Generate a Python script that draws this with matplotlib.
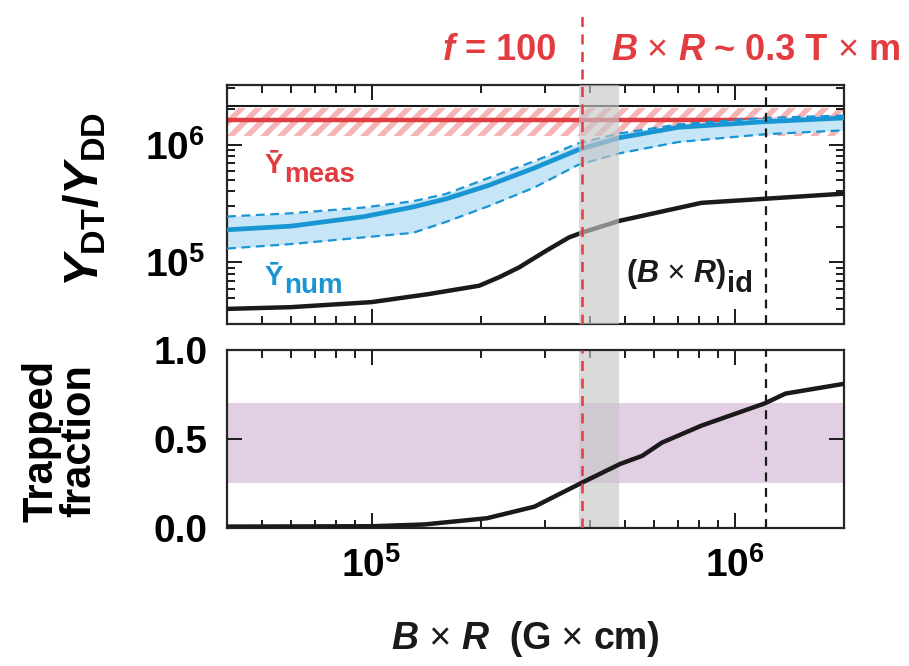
"""Trapped fraction and yield ratio vs B x R."""
import numpy as np
import matplotlib
matplotlib.use("Agg")
import matplotlib.pyplot as plt
from matplotlib.ticker import NullFormatter

RED = "#e23b40"
HATCH = "#f5b5b7"
BLUE = "#1a95d3"
BLUE_FILL = "#c6e5f6"
PURPLE = "#e3cfe4"

plt.rcParams.update({
    "font.family": ["Liberation Sans", "DejaVu Sans"],
    "font.weight": "bold",
    "mathtext.fontset": "custom",
    "mathtext.rm": "Liberation Sans:bold",
    "mathtext.it": "Liberation Sans:bold:italic",
    "mathtext.bf": "Liberation Sans:bold",
    "hatch.linewidth": 4.0,
    "hatch.color": HATCH,
    "axes.linewidth": 1.6,
})

# ---- data ----
# numerical yield ratio band (Y_num) on a common B*R grid
br_num = [4.0e4, 6.0e4, 9.5e4, 1.3e5, 1.6e5, 2.1e5, 2.8e5, 3.7e5, 4.8e5, 7.0e5, 1.2e6, 2.0e6]
y_num = [1.89e5, 2.03e5, 2.44e5, 2.95e5, 3.45e5, 4.5e5, 6.3e5, 9.0e5, 1.14e6, 1.40e6, 1.56e6, 1.68e6]
y_num_hi = [2.45e5, 2.61e5, 2.92e5, 3.3e5, 3.8e5, 5.2e5, 7.2e5, 1.02e6, 1.24e6, 1.48e6, 1.68e6, 1.76e6]
y_num_lo = [1.31e5, 1.43e5, 1.63e5, 1.78e5, 2.2e5, 3.0e5, 4.3e5, 6.7e5, 8.4e5, 1.05e6, 1.22e6, 1.32e6]

# black curve (no-trapping reference)
br_k = [4.0e4, 6.0e4, 1.0e5, 1.44e5, 1.98e5, 2.25e5, 2.55e5, 3.02e5, 3.5e5, 3.8e5,
        4.81e5, 6.3e5, 8.1e5, 1.22e6, 2.0e6]
y_k = [4.03e4, 4.17e4, 4.6e4, 5.39e4, 6.34e4, 7.5e4, 9.07e4, 1.25e5, 1.63e5, 1.79e5,
       2.25e5, 2.7e5, 3.2e5, 3.47e5, 3.83e5]

# measured yield ratio and its uncertainty
y_meas = 1.63e6
y_meas_lo, y_meas_hi = 1.18e6, 2.05e6
y_top_line = 2.13e6

# trapped fraction
br_trap = [4.0e4, 1.0e5, 1.4e5, 2.08e5, 2.81e5, 3.8e5, 4.84e5, 5.56e5, 6.31e5, 8.1e5, 1.21e6, 1.38e6, 2.0e6]
f_trap = [0.008, 0.01, 0.02, 0.055, 0.12, 0.255, 0.36, 0.405, 0.48, 0.575, 0.70, 0.755, 0.81]
trap_band = (0.25, 0.70)

# markers
br_f100 = 3.81e5
br_band = (3.72e5, 4.81e5)
br_id = 1.22e6

xlim = (4e4, 2e6)
ylim_top = (3e4, 3.2e6)
xticks = [1e5, 1e6]
xticklabels = [r"$\mathrm{10^{5}}$", r"$\mathrm{10^{6}}$"]
yticks_top = [1e5, 1e6]
yticklabels_top = [r"$\mathrm{10^{5}}$", r"$\mathrm{10^{6}}$"]
yticks_bot = [0.0, 0.5, 1.0]
yticklabels_bot = ["0.0", "0.5", "1.0"]

fig = plt.figure(figsize=(9.09, 6.66), dpi=100)
ax1 = fig.add_axes([0.2497, 0.5135, 0.6788, 0.3589])
ax2 = fig.add_axes([0.2497, 0.2072, 0.6788, 0.2673])


def chain(ax, x, y, parts, color, size, transform):
    """Write text pieces one after another on a shared baseline.
    parts: (text, style, weight)"""
    s, st, wt = parts[0]
    prev = ax.text(x, y, s, transform=transform, color=color, fontsize=size, style=st,
                   weight=wt, ha="left", va="bottom", zorder=6, clip_on=False)
    for s, st, wt in parts[1:]:
        prev = ax.annotate(s, xy=(1, 0), xycoords=prev, xytext=(0, 0),
                           textcoords="offset points", color=color, fontsize=size,
                           style=st, weight=wt, ha="left", va="bottom", zorder=6,
                           annotation_clip=False)
    return prev


def sub(ax, prev, s, color, size):
    ax.annotate(s, xy=(1, 0), xycoords=prev, xytext=(0.5, -6),
                textcoords="offset points", color=color, fontsize=size,
                ha="left", va="bottom", zorder=6)


B, N, X = "bold", "normal", " × "
TIMES = (X, N, N)

# ----- top panel -----
ax1.axhspan(y_meas_lo, y_meas_hi, facecolor="none", edgecolor=HATCH, hatch="//", lw=0, zorder=1)
ax1.axhline(y_top_line, color="0.1", lw=1.5, zorder=2)
ax1.axhline(y_meas, color=RED, lw=3.2, zorder=2)
ax1.fill_between(br_num, y_num_lo, y_num_hi, color=BLUE_FILL, lw=0, zorder=2)
ax1.plot(br_num, y_num_hi, color=BLUE, lw=1.6, dashes=(4, 2.5), zorder=3)
ax1.plot(br_num, y_num_lo, color=BLUE, lw=1.6, dashes=(4, 2.5), zorder=3)
ax1.plot(br_num, y_num, color=BLUE, lw=3.4, zorder=3)
ax1.plot(br_k, y_k, color="0.1", lw=3.2, zorder=3)
ax1.axvspan(*br_band, color="0.78", alpha=0.65, lw=0, zorder=4)
ax1.axvline(br_f100, ymin=0, ymax=1.30, color=RED, lw=1.8, dashes=(4, 3), zorder=5, clip_on=False)
ax1.axvline(br_id, color="0.1", lw=1.6, dashes=(4, 3), zorder=5)
ax1.set_xscale("log"); ax1.set_yscale("log")
ax1.set_xlim(*xlim); ax1.set_ylim(*ylim_top)
ax1.set_xticks(xticks); ax1.set_xticklabels([])
ax1.set_yticks(yticks_top); ax1.set_yticklabels(yticklabels_top)
ax1.tick_params(axis="y", pad=16)

ta = ax1.transAxes
t = chain(ax1, 0.0616, 0.605, [("Ȳ", N, B)], RED, 20, ta)
sub(ax1, t, "meas", RED, 20)
t = chain(ax1, 0.0616, 0.138, [("Ȳ", N, B)], BLUE, 20, ta)
sub(ax1, t, "num", BLUE, 20)
t = chain(ax1, 0.6479, 0.145, [("(", N, B), ("B", "italic", B), TIMES,
                               ("R", "italic", B), (")", N, B)], "0.1", 22, ta)
sub(ax1, t, "id", "0.1", 21)

# ----- bottom panel -----
ax2.axhspan(*trap_band, color=PURPLE, lw=0, zorder=1)
ax2.axvspan(*br_band, color="0.78", alpha=0.65, lw=0, zorder=2)
ax2.plot(br_trap, f_trap, color="0.1", lw=3.2, zorder=3)
ax2.axvline(br_f100, color=RED, lw=1.8, dashes=(4, 3), zorder=4)
ax2.axvline(br_id, color="0.1", lw=1.6, dashes=(4, 3), zorder=4)
ax2.set_xscale("log")
ax2.set_xlim(*xlim); ax2.set_ylim(0, 1)
ax2.set_xticks(xticks); ax2.set_xticklabels(xticklabels)
ax2.set_yticks(yticks_bot); ax2.set_yticklabels(yticklabels_bot)
ax2.tick_params(axis="y", pad=14)
ax2.tick_params(axis="x", pad=14)

for ax in (ax1, ax2):
    ax.xaxis.set_minor_formatter(NullFormatter())
    ax.yaxis.set_minor_formatter(NullFormatter())
    ax.tick_params(which="both", direction="in", top=True, right=True, width=1.4,
                   labelsize=28, color="0.1")
    ax.tick_params(which="major", length=11)
    ax.tick_params(which="minor", length=5.5)
    for s in ax.spines.values():
        s.set_color("0.15")

# ----- labels -----
ft = fig.transFigure
fig.text(0.0935, 0.6997, r"$Y_{\mathrm{DT}}\mathrm{/}Y_{\mathrm{DD}}$", rotation=90,
         ha="center", va="center", fontsize=35)
fig.text(0.066, 0.3378, "Trapped\nfraction", rotation=90, ha="center", va="center",
         multialignment="center", fontsize=30, linespacing=0.92)
chain(ax1, 0.431, 0.0135, [("B", "italic", B), (" × ", N, N), ("R", "italic", B),
                           ("  (G", N, B), (" × ", N, N), ("cm)", N, B)], "0.1", 27, ft)
chain(ax1, 0.4873, 0.8986, [("f", "italic", B), (" = 100", N, B)], RED, 26, ft)
chain(ax1, 0.6722, 0.8986, [("B", "italic", B), TIMES, ("R", "italic", B),
                            (" ~ 0.3 T", N, B), TIMES, ("m", N, B)], RED, 26, ft)

fig.savefig("out.png", dpi=100)
